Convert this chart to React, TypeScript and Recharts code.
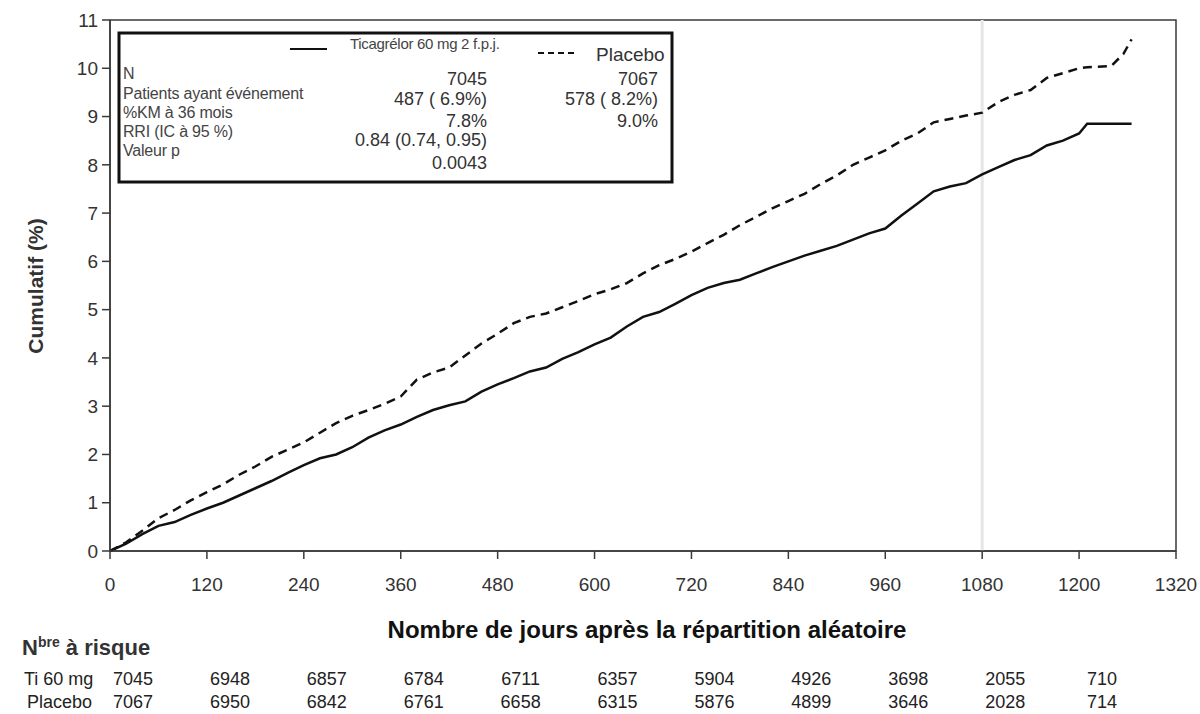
import React from 'react';
import {
  LineChart,
  Line,
  XAxis,
  YAxis,
  ReferenceLine,
  ReferenceArea,
} from 'recharts';

// days since randomisation (KM points)
const DAYS = [
  0, 20, 40, 60, 80, 100, 120, 140, 160, 180, 200, 220, 240, 260, 280, 300,
  320, 340, 360, 380, 400, 420, 440, 460, 480, 500, 520, 540, 560, 580, 600,
  620, 640, 660, 680, 700, 720, 740, 760, 780, 800, 820, 840, 860, 880, 900,
  920, 940, 960, 980, 1000, 1020, 1040, 1060, 1080, 1100, 1120, 1140, 1160,
  1180, 1200, 1210, 1240, 1255, 1265,
];

// cumulative % - Ticagrelor 60 mg
const TICAG = [
  0, 0.15, 0.35, 0.52, 0.6, 0.75, 0.88, 1.0, 1.15, 1.3, 1.45, 1.62, 1.78,
  1.92, 2.0, 2.15, 2.35, 2.5, 2.62, 2.78, 2.92, 3.02, 3.1, 3.3, 3.45, 3.58,
  3.72, 3.8, 3.98, 4.12, 4.28, 4.42, 4.65, 4.85, 4.95, 5.12, 5.3, 5.45, 5.55,
  5.62, 5.75, 5.88, 6.0, 6.12, 6.22, 6.32, 6.45, 6.58, 6.68, 6.95, 7.2, 7.45,
  7.55, 7.62, 7.8, 7.95, 8.1, 8.2, 8.4, 8.5, 8.65, 8.85, 8.85, 8.85, 8.85,
];

// cumulative % - Placebo
const PLACEBO = [
  0, 0.18, 0.42, 0.68, 0.85, 1.05, 1.22, 1.38, 1.58, 1.75, 1.95, 2.1, 2.25,
  2.45, 2.65, 2.8, 2.92, 3.05, 3.2, 3.55, 3.7, 3.8, 4.05, 4.3, 4.5, 4.72,
  4.85, 4.92, 5.05, 5.18, 5.32, 5.42, 5.55, 5.75, 5.92, 6.05, 6.2, 6.38, 6.55,
  6.75, 6.92, 7.1, 7.25, 7.4, 7.6, 7.78, 8.0, 8.15, 8.3, 8.5, 8.65, 8.88,
  8.95, 9.02, 9.08, 9.3, 9.45, 9.55, 9.8, 9.9, 10.0, 10.02, 10.05, 10.3, 10.6,
];

const X_TICKS = [0, 120, 240, 360, 480, 600, 720, 840, 960, 1080, 1200, 1320];
const Y_TICKS = [0, 1, 2, 3, 4, 5, 6, 7, 8, 9, 10, 11];

const RISK_TICAG = [7045, 6948, 6857, 6784, 6711, 6357, 5904, 4926, 3698, 2055, 710];
const RISK_PLACEBO = [7067, 6950, 6842, 6761, 6658, 6315, 5876, 4899, 3646, 2028, 714];

const LEGEND_LABELS = [
  'N',
  'Patients ayant événement',
  '%KM à 36 mois',
  'RRI (IC à 95 %)',
  'Valeur p',
];
const LEGEND_TICAG = ['7045', '487 ( 6.9%)', '7.8%', '0.84 (0.74, 0.95)', '0.0043'];
const LEGEND_PLACEBO = ['7067', '578 ( 8.2%)', '9.0%'];

const FONT = '"Liberation Sans", Arial, Helvetica, sans-serif';
const PLOT_LEFT = 110;
const PLOT_RIGHT = 1176;
const AXIS = '#3a3a3a';

const chartData = DAYS.map((d, i) => ({
  day: d,
  ticag: TICAG[i],
  placebo: PLACEBO[i],
}));

function Overlay() {
  const step = (PLOT_RIGHT - PLOT_LEFT) / 11;
  return (
    <svg
      width={1200}
      height={714}
      style={{ position: 'absolute', left: 0, top: 0, pointerEvents: 'none' }}
      fontFamily={FONT}
    >
      {/* legend box */}
      <rect x={119} y={33} width={553} height={149} fill="#fff" stroke="#111" strokeWidth={3} />
      <line x1={290} x2={327} y1={49} y2={49} stroke="#111" strokeWidth={2} />
      <text x={350} y={49} fontSize={15} fill="#444" letterSpacing={-0.3}>
        Ticagrélor 60 mg 2 f.p.j.
      </text>
      <line x1={538} x2={574} y1={53} y2={53} stroke="#111" strokeWidth={2} strokeDasharray="6 4" />
      <text x={596} y={61} fontSize={19} fill="#333">Placebo</text>
      {LEGEND_LABELS.map((t, i) => (
        <text key={t} x={123} y={[79, 99, 118, 137, 156][i]} fontSize={16} fill="#444" letterSpacing={-0.2}>
          {t}
        </text>
      ))}
      {LEGEND_TICAG.map((t, i) => (
        <text key={t} x={487} y={[85, 105, 127, 146, 169][i]} fontSize={18} fill="#333" textAnchor="end">
          {t}
        </text>
      ))}
      {LEGEND_PLACEBO.map((t, i) => (
        <text key={t} x={658} y={[85, 105, 127][i]} fontSize={18} fill="#333" textAnchor="end">
          {t}
        </text>
      ))}

      {/* axis titles */}
      <text
        transform="translate(43,286) rotate(-90)"
        textAnchor="middle"
        fontSize={21}
        fontWeight="bold"
        fill="#333"
      >
        Cumulatif (%)
      </text>
      <text x={647} y={638} textAnchor="middle" fontSize={24} fontWeight="bold" fill="#111">
        Nombre de jours après la répartition aléatoire
      </text>

      {/* number at risk */}
      <text x={22} y={655} fontSize={22} fontWeight="bold" fill="#333">
        N<tspan fontSize={14} dy={-8}>bre</tspan>
        <tspan dy={8}> à risque</tspan>
      </text>
      <text x={24} y={685} fontSize={18} fill="#222">Ti 60 mg</text>
      <text x={27} y={708} fontSize={18} fill="#222">Placebo</text>
      {RISK_TICAG.map((v, i) => (
        <text key={`t${i}`} x={PLOT_LEFT + 23 + i * step} y={685} fontSize={18} fill="#222" textAnchor="middle">
          {v}
        </text>
      ))}
      {RISK_PLACEBO.map((v, i) => (
        <text key={`p${i}`} x={PLOT_LEFT + 23 + i * step} y={708} fontSize={18} fill="#222" textAnchor="middle">
          {v}
        </text>
      ))}
    </svg>
  );
}

export default function App() {
  return (
    <div style={{ position: 'absolute', left: 0, top: 0, width: 1200, height: 714, background: '#fff' }}>
      <LineChart
        width={1200}
        height={714}
        data={chartData}
        margin={{ top: 20, right: 1200 - PLOT_RIGHT, bottom: 123, left: PLOT_LEFT - 60 }}
        style={{ fontFamily: FONT }}
      >
        <XAxis
          dataKey="day"
          type="number"
          domain={[0, 1320]}
          ticks={X_TICKS}
          interval={0}
          tickSize={8}
          tickMargin={19}
          height={40}
          stroke={AXIS}
          strokeWidth={1.5}
          tick={{ fill: '#333', fontSize: 19 }}
        />
        <YAxis
          type="number"
          domain={[0, 11]}
          ticks={Y_TICKS}
          interval={0}
          tickSize={8}
          tickMargin={4}
          width={60}
          stroke={AXIS}
          strokeWidth={1.5}
          tick={{ fill: '#333', fontSize: 19 }}
        />
        {/* plot frame (top and right edges) */}
        <ReferenceArea
          x1={0}
          x2={1320}
          y1={0}
          y2={11}
          fill="none"
          fillOpacity={0}
          stroke={AXIS}
          strokeWidth={1.5}
          ifOverflow="visible"
        />
        <ReferenceLine x={1080} stroke="#e6e6e6" strokeWidth={3} />
        <Line
          type="linear"
          dataKey="placebo"
          stroke="#111"
          strokeWidth={2.5}
          strokeDasharray="9 6"
          dot={false}
          isAnimationActive={false}
        />
        <Line
          type="linear"
          dataKey="ticag"
          stroke="#111"
          strokeWidth={2.5}
          dot={false}
          isAnimationActive={false}
        />
      </LineChart>
      <Overlay />
    </div>
  );
}
